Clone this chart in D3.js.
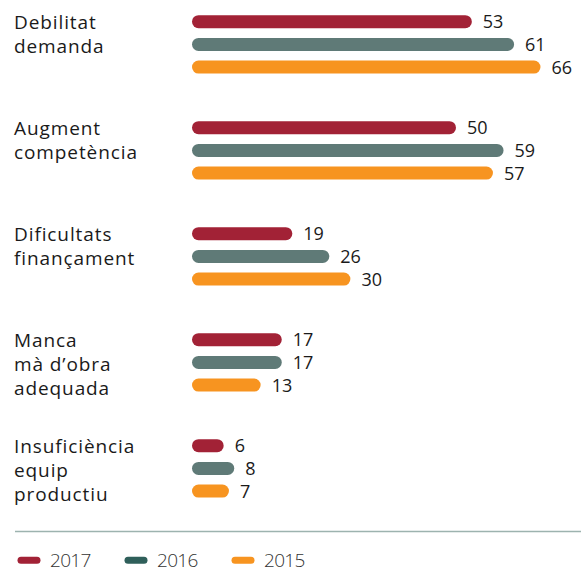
<!DOCTYPE html>
<html>
<head>
<meta charset="utf-8">
<script src="https://cdn.jsdelivr.net/npm/d3@7"></script>
<style>
  html, body { margin: 0; padding: 0; background: #fff; }
  svg { display: block; font-family: "Open Sans", sans-serif; }
</style>
</head>
<body>
<svg id="chart" width="581" height="569"></svg>
<script>
// Obstacles to business activity, % of firms, by year
const categories = [
  ["Debilitat", "demanda"],
  ["Augment", "competència"],
  ["Dificultats", "finançament"],
  ["Manca", "mà d’obra", "adequada"],
  ["Insuficiència", "equip", "productiu"]
];
const years = ["2017", "2016", "2015"];
const values2017 = [53, 50, 19, 17, 6];
const values2016 = [61, 59, 26, 17, 8];
const values2015 = [66, 57, 30, 13, 7];

const barColors = { "2017": "#a22236", "2016": "#5f7a77", "2015": "#f79420" };
const legendColors = { "2017": "#a22236", "2016": "#2f5f5a", "2015": "#f79420" };

const series = { "2017": values2017, "2016": values2016, "2015": values2015 };

const svg = d3.select("#chart");

const x = d3.scaleLinear().domain([0, 100]).range([192, 720]);
const group = d3.scaleBand()
  .domain(d3.range(categories.length))
  .range([-12, -12 + 106 * categories.length])
  .paddingInner(0).paddingOuter(0);
const row = d3.scalePoint().domain(years).range([33.7, 79.1]);

const barH = 13;

const g = svg.selectAll("g.cat")
  .data(categories)
  .join("g")
  .attr("class", "cat")
  .attr("transform", (d, i) => `translate(0,${group(i)})`);

// category labels
g.append("text")
  .attr("x", 14)
  .attr("fill", "#1a1a1a")
  .style("font-size", "19px")
  .style("letter-spacing", "0.9px")
  .selectAll("tspan")
  .data(d => d)
  .join("tspan")
  .attr("x", 14)
  .attr("y", (d, i) => row("2017") + 7.5 + i * 24)
  .text(d => d);

// bars and values
g.each(function (d, i) {
  const sel = d3.select(this);
  const rows = years.map(y => ({ year: y, value: series[y][i] }));
  sel.selectAll("rect.bar")
    .data(rows)
    .join("rect")
    .attr("class", "bar")
    .attr("x", x(0))
    .attr("y", r => row(r.year) - barH / 2)
    .attr("width", r => x(r.value) - x(0))
    .attr("height", barH)
    .attr("rx", barH / 2)
    .attr("fill", r => barColors[r.year]);
  sel.selectAll("text.val")
    .data(rows)
    .join("text")
    .attr("class", "val")
    .attr("x", r => x(r.value) + 11)
    .attr("y", r => row(r.year))
    .attr("dy", "0.36em")
    .attr("fill", "#1a1a1a")
    .style("font-size", "18px")
    .text(r => r.value);
});

// divider
svg.append("line")
  .attr("x1", 15).attr("x2", 581)
  .attr("y1", 531.5).attr("y2", 531.5)
  .attr("stroke", "#9db3af")
  .attr("stroke-width", 1.6);

// legend
const legend = svg.selectAll("g.leg")
  .data(years)
  .join("g")
  .attr("class", "leg")
  .attr("transform", (d, i) => `translate(${17.5 + i * 107},560.3)`);
legend.append("rect")
  .attr("x", 0).attr("y", -3.5)
  .attr("width", 23).attr("height", 7)
  .attr("rx", 3.5)
  .attr("fill", d => legendColors[d]);
legend.append("text")
  .attr("x", 32.5).attr("y", 0)
  .attr("dy", "0.36em")
  .attr("fill", "#333")
  .style("font-size", "19px")
  .style("font-weight", 300)
  .style("letter-spacing", "-0.7px")
  .text(d => d);
</script>
</body>
</html>
